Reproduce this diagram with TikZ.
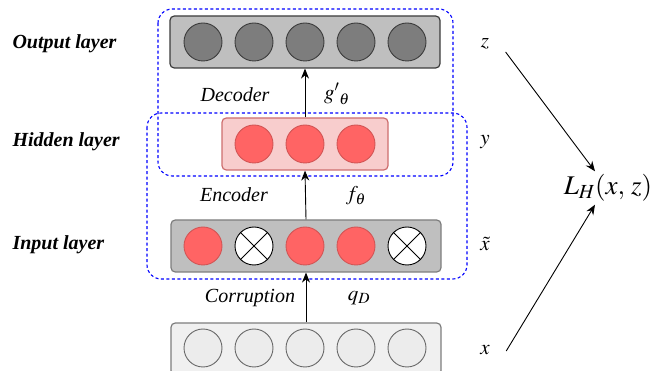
\documentclass[tikz,border=0pt]{standalone}
\usepackage{mathptmx}
\usepackage{fontspec}
\setmainfont{Liberation Serif}
\usetikzlibrary{arrows.meta,positioning}

\definecolor{outbox}{RGB}{191,191,191}
\definecolor{outline}{RGB}{60,60,60}
\definecolor{outunit}{RGB}{125,125,125}
\definecolor{hidbox}{RGB}{248,205,205}
\definecolor{hidline}{RGB}{205,110,110}
\definecolor{redunit}{RGB}{255,100,100}
\definecolor{redline}{RGB}{210,85,85}
\definecolor{inline}{RGB}{125,125,125}
\definecolor{botbox}{RGB}{240,240,240}
\definecolor{botunit}{RGB}{236,236,236}
\definecolor{botline}{RGB}{105,105,105}

\tikzstyle{layer} = [draw,line width=1.2pt,rectangle,rounded corners=.15cm,inner sep=0,minimum height=52pt]
\tikzstyle{unit} = [draw,line width=0.9pt,circle,inner sep=0,minimum size=38pt]
\tikzstyle{group} = [draw=blue,dash pattern=on 3pt off 2.5pt,line width=1.1pt,rounded corners=.5cm]
\tikzstyle{flow} = [-{Stealth[length=10pt,width=8pt]},line width=0.9pt]
\tikzstyle{layername} = [anchor=west,font=\fontsize{20}{22}\selectfont\bfseries\itshape]
\tikzstyle{tag} = [font=\fontsize{20}{22}\selectfont\itshape]
\tikzstyle{var} = [font=\fontsize{21}{23}\selectfont]
\def \gap {51}

\begin{document}
\begin{tikzpicture}[x=1pt,y=-1pt]
      \useasboundingbox (0,0) rectangle (657,371);
      % dashed groups
      \draw[group] (158,9) rectangle (453,176);
      \draw[group] (147,113) rectangle (467,279);
      % output layer
      \node[layer,fill=outbox,draw=outline,minimum width=270pt] (out) at (305,42) {};
      \foreach \i in {1,...,5}
        \node[unit,fill=outunit,draw=outline] (o\i) at (203+\gap*\i-\gap,42) {};
      % hidden layer
      \node[layer,fill=hidbox,draw=hidline,minimum width=166pt] (hid) at (305,144) {};
      \foreach \i in {1,2,3}
        \node[unit,fill=redunit,draw=redline] (h\i) at (254+\gap*\i-\gap,144) {};
      % input layer (corrupted)
      \node[layer,fill=outbox,draw=inline,minimum width=270pt] (inp) at (306,246) {};
      \foreach \i in {1,3,4}
        \node[unit,fill=redunit,draw=redline] (i\i) at (203+\gap*\i-\gap,246) {};
      \foreach \i in {2,5} {
        \node[unit,fill=white,draw=black] (i\i) at (203+\gap*\i-\gap,246) {};
        \draw[line width=0.9pt] (i\i.north west) -- (i\i.south east);
        \draw[line width=0.9pt] (i\i.north east) -- (i\i.south west);
      }
      % clean input
      \node[layer,fill=botbox,draw=inline,minimum width=270pt] (bot) at (306,349) {};
      \foreach \i in {1,...,5}
        \node[unit,fill=botunit,draw=botline] (b\i) at (203+\gap*\i-\gap,348) {};
      % flow
      \draw[flow] (bot.north) -- (inp.south);
      \draw[flow] (inp.north) -- (hid.south);
      \draw[flow] (hid.north) -- (out.south);
      % names
      \node[layername] (outname) at (9,44) {Output layer};
      \node[layername] (hidname) at (9,142) {Hidden layer};
      \node[layername] (inpname) at (9,245) {Input layer};
      \node[tag] (dec) at (235,95) {Decoder};
      \node[tag] (enc) at (234,195) {Encoder};
      \node[tag] (cor) at (250,298) {Corruption};
      \node[var] (gfun) at (337,94) {${g'}_{\theta}$};
      \node[var] (ffun) at (356,196) {$f_{\theta}$};
      \node[var] (qfun) at (359,298) {$q_D$};
      \node[var] (zl) at (485,44) {$z$};
      \node[var] (yl) at (485,142) {$y$};
      \node[var] (xtl) at (485,244) {$\tilde{x}$};
      \node[var] (xl) at (485,350) {$x$};
      \node[var,inner sep=0,font=\fontsize{27}{30}\selectfont] (loss) at (608,188) {$L_H(x,\,z)$};
      \draw[flow] ([xshift=13pt,yshift=-8pt]zl.east) -- ([xshift=-13pt,yshift=3pt]loss.north);
      \draw[flow] ([xshift=13pt,yshift=-1pt]xl.east) -- ([xshift=-13pt,yshift=-3pt]loss.south);
    \end{tikzpicture}
\end{document}
